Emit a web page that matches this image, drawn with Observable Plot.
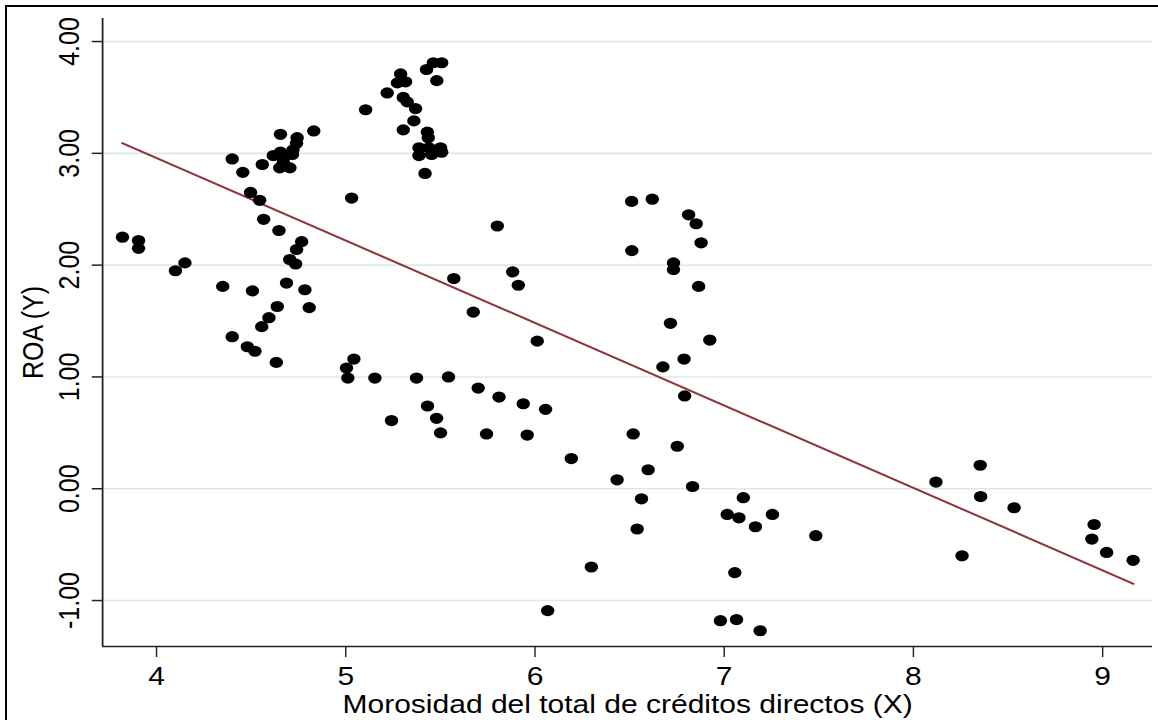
<!DOCTYPE html>
<html>
<head>
<meta charset="utf-8">
<script src="https://cdn.jsdelivr.net/npm/d3@7"></script>
<script src="https://cdn.jsdelivr.net/npm/@observablehq/plot@0.6"></script>
<style>
  html, body { margin: 0; padding: 0; background: #fff; }
  #wrap { position: relative; width: 1158px; height: 720px; overflow: hidden; background: #fff; }
  #chart { position: absolute; left: 0; top: 0; transform: scaleX(1.2); transform-origin: 0 0; }
  #border { position: absolute; left: 5px; top: 5px; right: -10px; bottom: -10px;
            border-top: 2px solid #000; border-left: 2px solid #000; pointer-events: none; }
</style>
</head>
<body>
<div id="wrap">
  <div id="chart"></div>
  <div id="border"></div>
</div>
<script>
// Morosidad (X) values
const xValues = [
  3.82, 3.905, 3.905, 4.10, 4.15, 4.35, 4.40, 4.40, 4.456, 4.497,
  4.48, 4.52, 4.507, 4.545, 4.566, 4.559, 4.556, 4.594, 4.638, 4.633,
  4.647, 4.687, 4.704, 4.735, 4.740, 4.767, 4.784, 4.807,
  4.655, 4.743, 4.740, 4.721, 4.718, 4.683, 4.617, 4.655, 4.651, 4.705, 4.670, 4.831,
  5.031, 5.105, 5.219, 5.290, 5.273, 5.316, 5.304, 5.325, 5.369, 5.360,
  5.304, 5.431, 5.436, 5.387, 5.440, 5.501, 5.387, 5.454, 5.507, 5.419,
  5.427, 5.463, 5.507, 5.481, 5.801, 5.571, 5.674, 5.882, 5.912, 6.012,
  5.043, 5.004, 5.011, 5.154, 5.374, 5.543, 5.700, 5.810, 5.938, 6.056,
  5.242, 5.432, 5.480, 5.501, 5.744, 5.959, 6.192, 6.298, 6.067,
  6.511, 6.620, 6.812, 6.852, 6.878, 6.512, 6.732, 6.732, 6.865, 6.716,
  6.924, 6.788, 6.676, 6.791, 6.519, 6.752, 6.434, 6.598, 6.563, 6.540,
  6.833, 7.101, 7.016, 7.078, 7.165, 7.255, 7.484, 7.056, 6.980, 7.065, 7.190,
  8.119, 8.353, 8.355, 8.532, 8.257, 8.955, 8.943, 9.021, 9.161
];
// ROA (Y) values
const yValues = [
  2.25, 2.22, 2.15, 1.95, 2.02, 1.81, 2.95, 1.36, 2.83, 2.65,
  1.27, 1.23, 1.77, 2.58, 2.41, 2.90, 1.45, 1.53, 1.63, 1.13,
  2.31, 1.84, 2.05, 2.01, 2.14, 2.21, 1.78, 1.62,
  3.17, 3.14, 3.09, 3.03, 2.99, 2.98, 2.98, 3.01, 2.87, 2.87, 2.92, 3.20,
  2.60, 3.39, 3.54, 3.71, 3.63, 3.64, 3.50, 3.46, 3.40, 3.29,
  3.21, 3.19, 3.14, 3.05, 3.05, 3.05, 2.98, 2.99, 3.01, 2.82,
  3.75, 3.81, 3.81, 3.65, 2.35, 1.88, 1.58, 1.94, 1.82, 1.32,
  1.16, 1.08, 0.99, 0.99, 0.99, 1.00, 0.90, 0.82, 0.76, 0.71,
  0.61, 0.74, 0.63, 0.50, 0.49, 0.48, 0.27, -0.70, -1.09,
  2.57, 2.59, 2.45, 2.37, 2.20, 2.13, 2.02, 1.96, 1.81, 1.48,
  1.33, 1.16, 1.09, 0.83, 0.49, 0.38, 0.08, 0.17, -0.09, -0.36,
  0.02, -0.08, -0.23, -0.26, -0.34, -0.23, -0.42, -0.75, -1.18, -1.17, -1.27,
  0.06, 0.21, -0.07, -0.17, -0.60, -0.32, -0.45, -0.57, -0.64
];
// Fitted values (linear fit) at the ends of the X range
const fitX = [3.819, 9.163];
const fitY = [3.091, -0.850];

const xTicks = [4, 5, 6, 7, 8, 9];
const yTicks = [-1, 0, 1, 2, 3, 4];
const xDomain = [3.715, 9.264];
const yDomain = [-1.411, 4.206];
const xTitle = "Morosidad del total de créditos directos (X)";
const yTitle = "ROA (Y)";

const points = xValues.map((x, i) => ({x, y: yValues[i]}));
const fit = fitX.map((x, i) => ({x, y: fitY[i]}));

const chart = Plot.plot({
  width: 965,
  height: 720,
  marginLeft: 85,
  marginRight: 5,
  marginTop: 18,
  marginBottom: 74,
  style: {fontFamily: "'Liberation Sans', Arial, sans-serif", fontSize: "25px", color: "#000", background: "#fff", overflow: "visible"},
  x: {domain: xDomain},
  y: {domain: yDomain},
  marks: [
    Plot.gridY(yTicks, {stroke: "#dce8ec", strokeOpacity: 1, strokeWidth: 1.6}),
    Plot.ruleX([xDomain[0]], {stroke: "#222", strokeWidth: 1.5}),
    Plot.ruleY([yDomain[0]], {stroke: "#222", strokeWidth: 1.5}),
    Plot.axisX(xTicks, {tickSize: 11, tickPadding: 10, tickFormat: d => String(d), label: null, stroke: "#222", strokeWidth: 1.2}),
    Plot.axisY(yTicks, {tickSize: 8.5, tickPadding: 11.5, tickRotate: -90, tickFormat: d => d.toFixed(2), label: null, stroke: "#222", strokeWidth: 1.5}),
    Plot.text([xTitle], {text: d => d, frameAnchor: "bottom", dy: 66, lineAnchor: "bottom"}),
    Plot.text([yTitle], {text: d => d, frameAnchor: "left", dx: -50, rotate: -90, textAnchor: "middle", lineAnchor: "bottom"}),
    Plot.line(fit, {x: "x", y: "y", stroke: "#90353b", strokeWidth: 2}),
    Plot.dot(points, {x: "x", y: "y", r: 5.6, fill: "#000", stroke: "none"})
  ]
});
document.getElementById("chart").appendChild(chart);
</script>
</body>
</html>
